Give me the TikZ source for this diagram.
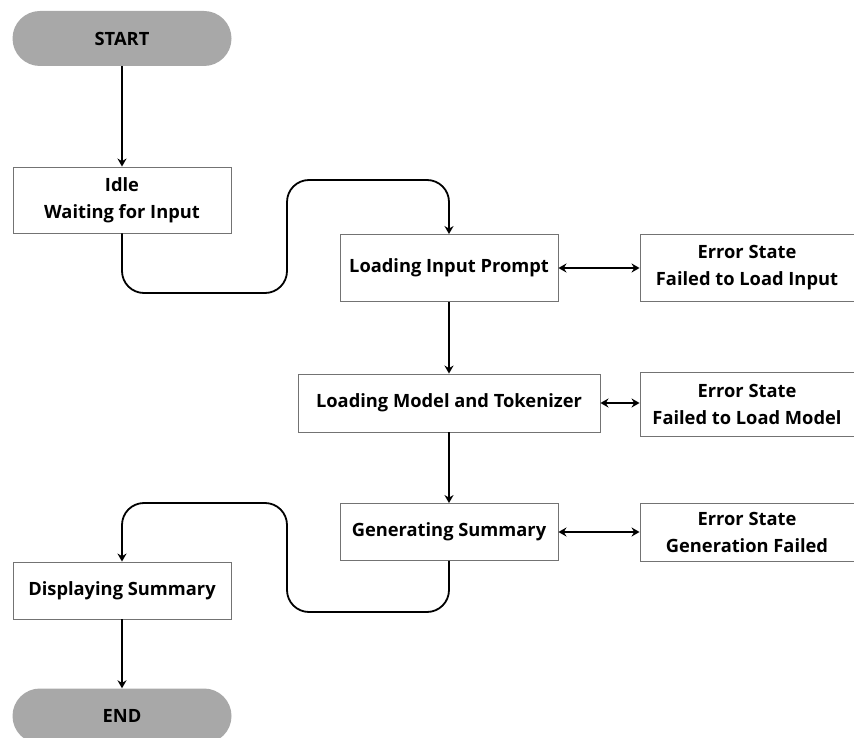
\documentclass[tikz,border=0pt]{standalone}
\usepackage{fontspec}
\setmainfont{Open Sans}
\usetikzlibrary{arrows.meta}
\begin{document}
\begin{tikzpicture}[x=1pt,y=-1pt,
  font=\bfseries\fontsize{18.3}{27}\selectfont,
  statebox/.style={draw=black!55, line width=0.9pt, fill=white, align=center,
    minimum height=#1, inner sep=0pt},
  statebox/.default=66,
  terminal/.style={fill=black!34, rounded corners=27.5, minimum width=219,
    minimum height=55, inner sep=0pt},
  flow/.style={line width=1.8pt, -{Stealth[length=8pt,width=9pt]}},
  both/.style={line width=1.8pt, {Stealth[length=8pt,width=9pt]}-{Stealth[length=8pt,width=9pt]}},
  detour/.style={flow, rounded corners=22}]
  \useasboundingbox (0,0) rectangle (854,738);
  \fill[white] (0,0) rectangle (854,738);

  % main column of states
  \node[terminal] (start) at (122,38.5) {START};
  \node[statebox, minimum width=218] (idle) at (122,200) {Idle\\Waiting for Input};
  \node[statebox=67, minimum width=218] (lip) at (449,268) {Loading Input Prompt};
  \node[statebox=58, minimum width=302] (lmt) at (449,403) {Loading Model and Tokenizer};
  \node[statebox=57, minimum width=218] (gen) at (449,532) {Generating Summary};
  \node[statebox=57, minimum width=218] (disp) at (122,590.5) {Displaying Summary};
  \node[terminal] (end) at (122,716) {END};

  % error states
  \node[statebox=67, minimum width=214] (err1) at (747,268) {Error State\\Failed to Load Input};
  \node[statebox=64, minimum width=214] (err2) at (747,404) {Error State\\Failed to Load Model};
  \node[statebox=58, minimum width=214] (err3) at (747,532) {Error State\\Generation Failed};

  % routing points of the two detours
  \coordinate (a1) at (122,293);
  \coordinate (a2) at (287,293);
  \coordinate (a3) at (287,180);
  \coordinate (a4) at (449,180);
  \coordinate (b1) at (449,612);
  \coordinate (b2) at (287,612);
  \coordinate (b3) at (287,503);
  \coordinate (b4) at (122,503);

  % transitions
  \draw[flow] (start) -- (idle);
  \draw[detour] (idle.south) -- (a1) -- (a2) -- (a3) -- (a4) -- (lip.north);
  \draw[flow] (lip) -- (lmt);
  \draw[flow] (lmt) -- (gen);
  \draw[detour] (gen.south) -- (b1) -- (b2) -- (b3) -- (b4) -- (disp.north);
  \draw[flow] (disp) -- (end);

  \draw[both] (lip) -- (err1);
  \draw[both] (lmt.east) -- (err2.west |- lmt.east);
  \draw[both] (gen) -- (err3);
\end{tikzpicture}
\end{document}
